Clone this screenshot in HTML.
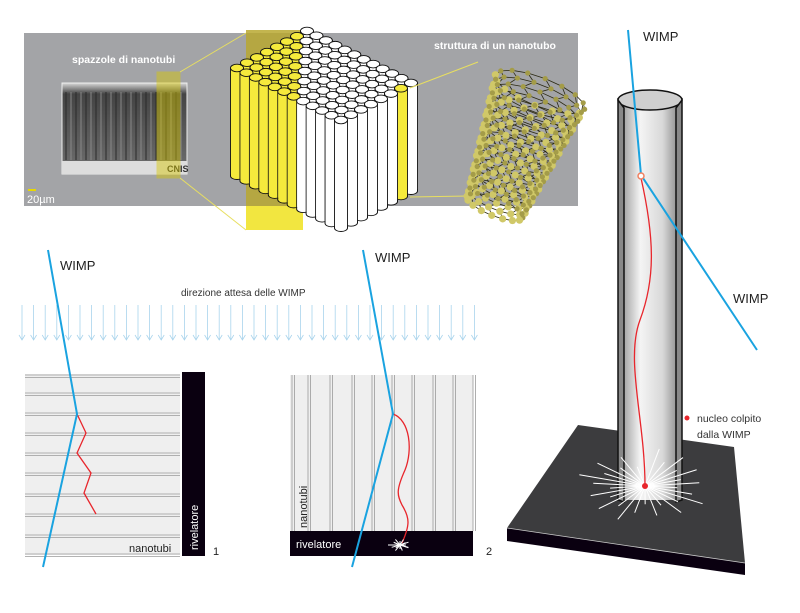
<!DOCTYPE html>
<html><head><meta charset="utf-8"><style>
body{margin:0;background:#fff;}
svg{display:block;font-family:"Liberation Sans",sans-serif;}
</style></head><body>
<svg id="s" width="800" height="613" viewBox="0 0 800 613" xmlns="http://www.w3.org/2000/svg">
<defs>
<linearGradient id="cyl" x1="0" x2="1" y1="0" y2="0">
<stop offset="0" stop-color="#8a8a8a"/><stop offset="0.35" stop-color="#f4f4f4"/><stop offset="0.7" stop-color="#d8d8d8"/><stop offset="1" stop-color="#7a7a7a"/>
</linearGradient>
<linearGradient id="sem" x1="0" x2="0" y1="0" y2="1">
<stop offset="0" stop-color="#d8d8d8"/><stop offset="0.12" stop-color="#444"/><stop offset="0.9" stop-color="#6a6a6a"/><stop offset="1" stop-color="#bbb"/>
</linearGradient>
</defs>
<rect x="24" y="33" width="554" height="173" fill="#a3a4a7"/>
<rect x="62" y="83" width="125" height="91" fill="url(#sem)" stroke="#eee" stroke-width="1"/>
<g id="semlines"></g>
<rect x="62" y="161" width="125" height="13" fill="#ddd"/>
<text x="167" y="172" font-size="9" font-weight="bold" fill="#333">CNIS</text>
<rect x="157" y="72" width="23" height="106" fill="#d8c800" opacity="0.45" stroke="#d8c800"/>
<text x="72" y="63" font-size="10.5" font-weight="bold" fill="#fff">spazzole di nanotubi</text>
<rect x="28" y="189" width="8" height="2" fill="#e8d800"/>
<text x="27" y="203" font-size="11" fill="#fff">20µm</text>
<line x1="180" y1="72" x2="246" y2="33" stroke="#e8df60" stroke-width="1"/>
<line x1="180" y1="178" x2="246" y2="230" stroke="#e8df60" stroke-width="1"/>
<rect x="246" y="30" width="57" height="176" fill="#b8a830" opacity="0.85"/>
<rect x="246" y="206" width="57" height="24" fill="#f2e640"/>
<g id="cube"></g>
<line x1="410" y1="88" x2="478" y2="62" stroke="#e8df60" stroke-width="1"/>
<line x1="410" y1="197" x2="468" y2="196" stroke="#e8df60" stroke-width="1"/>
<text x="434" y="49" font-size="10.5" font-weight="bold" fill="#fff">struttura di un nanotubo</text>
<g id="tube"></g>

<text x="60" y="270" font-size="13" fill="#222">WIMP</text>
<text x="375" y="262" font-size="13" fill="#222">WIMP</text>
<text x="181" y="296" font-size="10" fill="#333">direzione attesa delle WIMP</text>
<g id="arrows" stroke="#a9d4ec" stroke-width="0.8" fill="none"></g>

<rect x="25" y="374" width="155" height="181" fill="#efefef"/>
<g id="hl" stroke="#9a9a9a" stroke-width="0.8"></g>
<rect x="182" y="372" width="23" height="184" fill="#0a0010"/>
<text transform="translate(198,550) rotate(-90)" font-size="11" fill="#fff">rivelatore</text>
<text x="129" y="552" font-size="11" fill="#222">nanotubi</text>
<text x="213" y="555" font-size="11" fill="#222">1</text>
<polyline points="77,414 86,433 77,453 91,473 84,493 96,514" fill="none" stroke="#e8262c" stroke-width="1.3"/>
<polyline points="48,250 77,414 43,567" fill="none" stroke="#1aa3e0" stroke-width="2"/>

<rect x="290" y="375" width="183" height="156" fill="#efefef"/>
<g id="vl" stroke="#9a9a9a" stroke-width="0.8"></g>
<rect x="290" y="531" width="183" height="25" fill="#0a0010"/>
<text x="296" y="548" font-size="11" fill="#fff">rivelatore</text>
<text transform="translate(307,528) rotate(-90)" font-size="11" fill="#222">nanotubi</text>
<text x="486" y="555" font-size="11" fill="#222">2</text>
<path d="M393,414 C410,420 413,450 405,470 C396,490 397,495 402,505 C410,518 410,525 402,543" fill="none" stroke="#e8262c" stroke-width="1.3"/>
<g id="star2" stroke="#fff" stroke-width="1"></g>
<polyline points="363,250 393,414 352,567" fill="none" stroke="#1aa3e0" stroke-width="2"/>

<polygon points="507,528 745,563 745,575 507,541" fill="#0a0010"/>
<polygon points="507,528 578,425 734,447 745,563" fill="#3c3c3e"/>
<line x1="507" y1="528" x2="745" y2="563" stroke="#ccc" stroke-width="0.8"/>
<rect x="618" y="100" width="64" height="400" fill="url(#cyl)"/>
<ellipse cx="650" cy="100" rx="32" ry="10" fill="#cfcfcf" stroke="#111" stroke-width="1.5"/>
<path d="M618,100 L618,500 L624,502 L624,108 Z M682,100 L682,500 L676,502 L676,108 Z" stroke="#111" stroke-width="1.5" fill="#888"/>
<g id="star3" stroke="#fff" stroke-width="1"></g>
<path d="M641,178 C655,240 655,280 640,320 C625,360 645,420 645,486" fill="none" stroke="#e8262c" stroke-width="1.3"/>
<circle cx="645" cy="486" r="3" fill="#e8262c"/>
<polyline points="628,30 641,175 757,350" fill="none" stroke="#1aa3e0" stroke-width="2"/>
<circle cx="641" cy="176" r="3" fill="#fff" stroke="#f08060" stroke-width="1.5"/>
<text x="643" y="41" font-size="13" fill="#222">WIMP</text>
<text x="733" y="303" font-size="13" fill="#222">WIMP</text>
<circle cx="687" cy="418" r="2.5" fill="#e8262c"/>
<text x="697" y="422" font-size="10.5" fill="#333">nucleo colpito</text>
<text x="697" y="438" font-size="10.5" fill="#333">dalla WIMP</text>
</svg>
<script>
var NS="http://www.w3.org/2000/svg";
function el(p,t,a){var e=document.createElementNS(NS,t);for(var k in a)e.setAttribute(k,a[k]);document.getElementById(p).appendChild(e);return e;}
for(var x=66;x<185;x+=3+((x*7)%5)){el("semlines","line",{x1:x,y1:92,x2:x,y2:160,stroke:(x%2?"#888":"#2a2a2a"),"stroke-width":1});}
var pts=[];var T=[307,31],A=[-70/7,37/7],B=[104/11,52/11],H=108;
for(var i=0;i<=7;i++)for(var j=0;j<=11;j++){pts.push([T[0]+A[0]*i+B[0]*j,T[1]+A[1]*i+B[1]*j,i,j]);}
pts.sort(function(a,b){return a[1]-b[1];});
pts.forEach(function(p){var cx=p[0],cy=p[1];var y=(cx<303)||(p[3]==11&&p[2]==1);var f=y?"#f5ea3c":"#fff";
el("cube","rect",{x:cx-6.5,y:cy,width:13,height:H,fill:f,stroke:"#111","stroke-width":0.9});
el("cube","ellipse",{cx:cx,cy:cy+H,rx:6.5,ry:3.5,fill:f,stroke:"#111","stroke-width":0.9});
el("cube","rect",{x:cx-6,y:cy,width:12,height:H,fill:f});
el("cube","ellipse",{cx:cx,cy:cy,rx:6.5,ry:3.8,fill:f,stroke:"#111","stroke-width":0.9});});
// nanotube
var ux=-0.36,uy=0.93,px=0.93,py=0.36;var rows=[];
for(var r=0;r<=18;r++){var t=r/18;var ax=540-45*t,ay=92+115*t,R=48-18*t;var row=[];
for(var k=0;k<16;k++){var th=k/16*2*Math.PI+(r%2)*Math.PI/16;var c=Math.cos(th),s=Math.sin(th);
row.push([ax+px*R*c+ux*R*0.3*s,ay+py*R*c+uy*R*0.3*s,s]);}rows.push(row);}
for(var r=0;r<rows.length;r++)for(var k=0;k<16;k++){var p=rows[r][k],q=rows[r][(k+1)%16];
el("tube","line",{x1:p[0],y1:p[1],x2:q[0],y2:q[1],stroke:"#2a2810","stroke-width":0.8});
if(r+1<rows.length){var n=rows[r+1][k];el("tube","line",{x1:p[0],y1:p[1],x2:n[0],y2:n[1],stroke:"#2a2810","stroke-width":0.8});}}
for(var r=0;r<rows.length;r++)for(var k=0;k<16;k++){var p=rows[r][k];var c=p[2]>0;
el("tube","circle",{cx:p[0],cy:p[1],r:c?3.6:2.6,fill:c?"#d0c868":"#a49c48"});}
for(var x=22;x<=478;x+=11.6){el("arrows","line",{x1:x,y1:305,x2:x,y2:340});el("arrows","polyline",{points:(x-3)+",335 "+x+",340 "+(x+3)+",335"});}
[375,393,413,433,453,473,494,514,535,554].forEach(function(y){el("hl","line",{x1:25,y1:y,x2:180,y2:y});el("hl","line",{x1:25,y1:y+2.5,x2:180,y2:y+2.5});});
[292,308,330,352,372,392,412,433,453,473].forEach(function(x){el("vl","line",{x1:x,y1:375,x2:x,y2:531});el("vl","line",{x1:x+2.5,y1:375,x2:x+2.5,y2:531});});
for(var k=0;k<16;k++){var a=k/16*2*Math.PI;el("star2","line",{x1:400,y1:545,x2:400+Math.cos(a)*(6+k%3*3),y2:545+Math.sin(a)*(4+k%2*2)});}
for(var k=0;k<30;k++){var a=k/30*2*Math.PI+0.1;var L=25+(k*13%30);el("star3","line",{x1:645,y1:486,x2:645+Math.cos(a)*L*1.3,y2:486+Math.sin(a)*L*0.7});}
</script>
</body></html>
